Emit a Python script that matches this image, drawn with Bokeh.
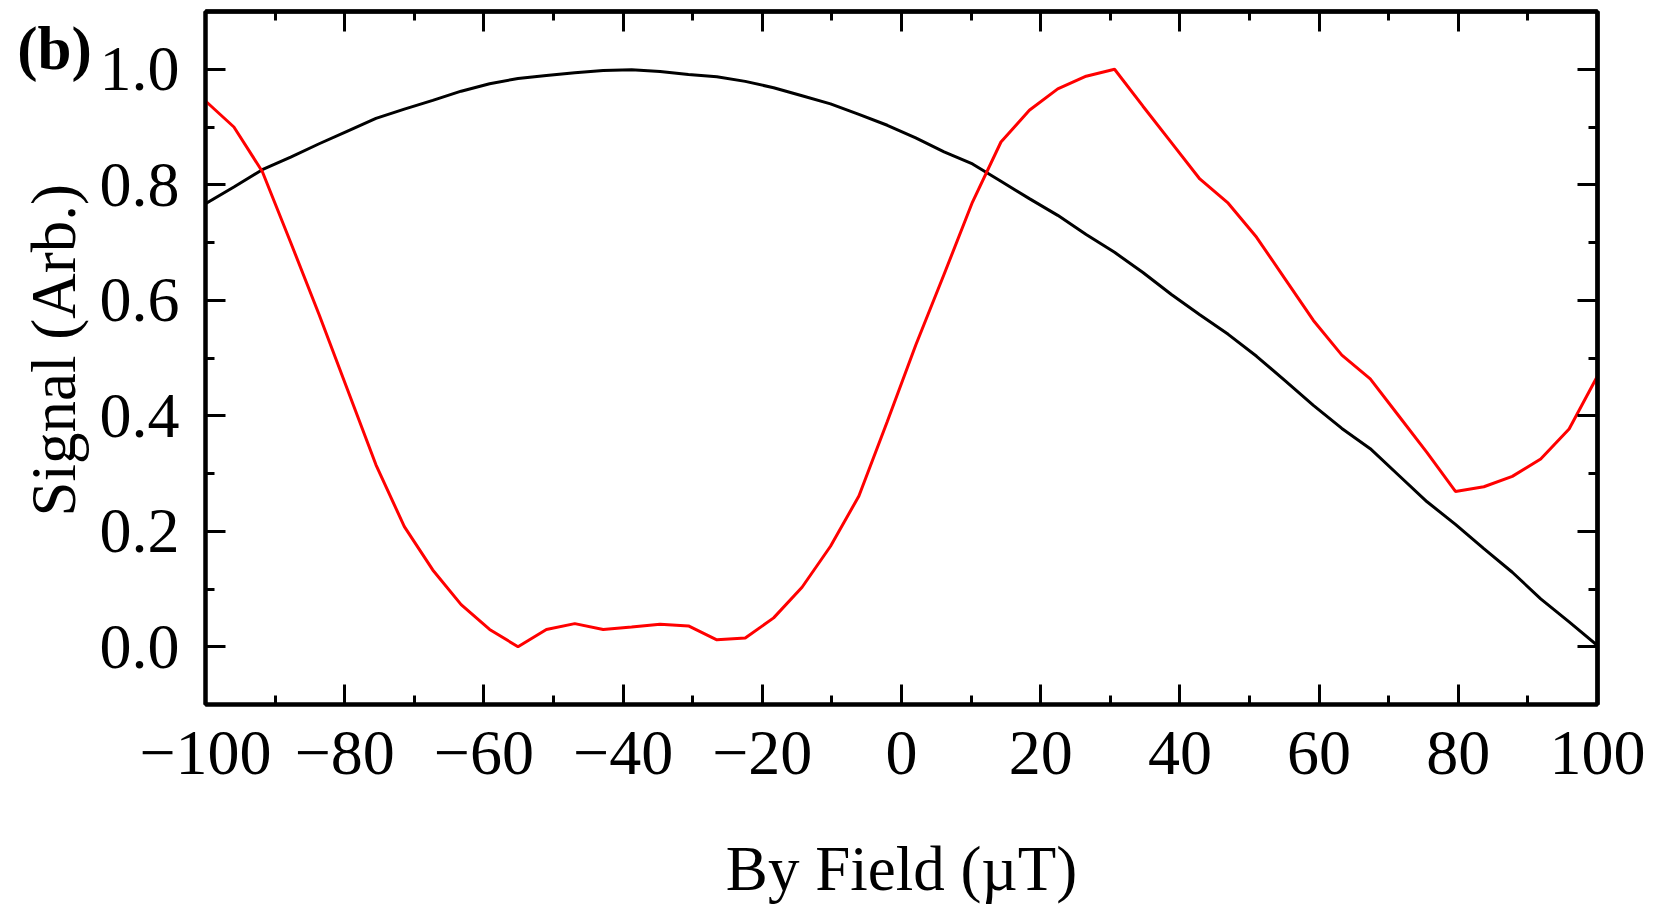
import math
from bokeh.plotting import figure
from bokeh.layouts import row
from bokeh.models import Range1d, FixedTicker, CustomJSTickFormatter, LinearAxis
from bokeh.core.properties import value
from bokeh.embed import file_html
from bokeh.resources import INLINE

# ---- data ----
field = [-100.0, -95.92, -91.84, -87.76, -83.67, -79.59, -75.51, -71.43, -67.35, -63.27,
         -59.18, -55.10, -51.02, -46.94, -42.86, -38.78, -34.69, -30.61, -26.53, -22.45,
         -18.37, -14.29, -10.20, -6.12, -2.04, 2.04, 6.12, 10.20, 14.29, 18.37,
         22.45, 26.53, 30.61, 34.69, 38.78, 42.86, 46.94, 51.02, 55.10, 59.18,
         63.27, 67.35, 71.43, 75.51, 79.59, 83.67, 87.76, 91.84, 95.92, 100.0]

signal_black = [0.767, 0.796, 0.826, 0.848, 0.871, 0.893, 0.915, 0.931, 0.946, 0.962,
                0.975, 0.984, 0.989, 0.994, 0.998, 0.999, 0.996, 0.991, 0.987, 0.979,
                0.968, 0.954, 0.940, 0.922, 0.903, 0.881, 0.857, 0.836, 0.806, 0.776,
                0.747, 0.714, 0.683, 0.648, 0.610, 0.575, 0.541, 0.503, 0.461, 0.418,
                0.378, 0.343, 0.297, 0.251, 0.212, 0.170, 0.129, 0.083, 0.043, 0.002]

signal_red = [0.945, 0.900, 0.823, 0.700, 0.575, 0.445, 0.315, 0.208, 0.133, 0.073,
              0.030, 0.000, 0.030, 0.040, 0.030, 0.034, 0.039, 0.036, 0.012, 0.015,
              0.050, 0.103, 0.174, 0.261, 0.390, 0.522, 0.645, 0.770, 0.874, 0.929,
              0.966, 0.988, 1.000, 0.936, 0.873, 0.810, 0.768, 0.709, 0.637, 0.565,
              0.505, 0.464, 0.400, 0.336, 0.269, 0.277, 0.295, 0.325, 0.377, 0.469]

x_major = [-100, -80, -60, -40, -20, 0, 20, 40, 60, 80, 100]
x_minor = [-90, -70, -50, -30, -10, 10, 30, 50, 70, 90]
y_major = [0.0, 0.2, 0.4, 0.6, 0.8, 1.0]
y_minor = [0.1, 0.3, 0.5, 0.7, 0.9]

x_label = "By Field (\u00b5T)"
y_label = "Signal (Arb.)"
panel_tag = "(b)"

FONT = "Liberation Serif"
TICK_FS = "64px"
LABEL_FS = "63px"

H = 905
LEFT_W = 96

# ---- left strip: panel tag and y-axis title ----
side = figure(width=LEFT_W, height=H, output_backend="svg", toolbar_location=None,
              x_range=Range1d(0, LEFT_W), y_range=Range1d(-H, 0),
              x_axis_type=None, y_axis_type=None, title=None,
              min_border_left=0, min_border_right=0, min_border_top=0, min_border_bottom=0,
              outline_line_color=None, background_fill_color="white", border_fill_color="white")
side.grid.visible = False
side.text(x=[54], y=[-49], text=[panel_tag], text_font=value(FONT), text_font_style="bold",
          text_font_size="61px", text_baseline="middle", text_align="center",
          text_color="black")
side.text(x=[53], y=[-443], text=[y_label], text_font=value(FONT), text_font_style="normal",
          text_font_size=LABEL_FS, text_baseline="middle", text_align="center",
          angle=math.pi / 2, text_color="black")

# ---- main plot ----
p = figure(frame_width=1392, frame_height=693, output_backend="svg", toolbar_location=None,
           x_range=Range1d(-100, 100), y_range=Range1d(-0.1, 1.1), title=None,
           min_border_left=204 - LEFT_W, min_border_right=55,
           min_border_top=11, min_border_bottom=H - 11 - 693,
           background_fill_color="white", border_fill_color="white")
p.grid.visible = False
p.outline_line_color = "black"
p.outline_line_width = 4

p.line(field, signal_black, line_color="black", line_width=3)
p.line(field, signal_red, line_color="#ff0000", line_width=3)

xfmt = CustomJSTickFormatter(code="return tick < 0 ? '\\u2212' + Math.abs(tick).toFixed(0) : tick.toFixed(0);")
yfmt = CustomJSTickFormatter(code="return tick.toFixed(1);")


def base_style(ax):
    ax.axis_line_color = "black"
    ax.axis_line_width = 4
    ax.major_tick_in = 20
    ax.major_tick_out = 0
    ax.minor_tick_in = 9
    ax.minor_tick_out = 0
    ax.major_tick_line_width = 3
    ax.minor_tick_line_width = 3
    ax.major_tick_line_color = "black"
    ax.minor_tick_line_color = "black"
    ax.major_label_text_font = FONT
    ax.major_label_text_font_size = TICK_FS
    ax.major_label_text_color = "black"


xa = p.xaxis[0]
xa.ticker = FixedTicker(ticks=x_major, minor_ticks=x_minor)
xa.formatter = xfmt
base_style(xa)
xa.major_label_standoff = 27
xa.axis_label = x_label
xa.axis_label_text_font = FONT
xa.axis_label_text_font_size = LABEL_FS
xa.axis_label_text_font_style = "normal"
xa.axis_label_text_color = "black"
xa.axis_label_standoff = 57

ya = p.yaxis[0]
ya.ticker = FixedTicker(ticks=y_major, minor_ticks=y_minor)
ya.formatter = yfmt
base_style(ya)
ya.major_label_standoff = 26


def tick_only_axis(positions, length):
    # an axis that only carries inward ticks (no labels)
    ax = LinearAxis(ticker=FixedTicker(ticks=[], minor_ticks=positions))
    ax.axis_line_color = "black"
    ax.axis_line_width = 4
    ax.major_tick_in = 0
    ax.major_tick_out = 0
    ax.minor_tick_in = length
    ax.minor_tick_out = 0
    ax.minor_tick_line_width = 3
    ax.minor_tick_line_color = "black"
    ax.major_label_standoff = 0
    ax.axis_label_standoff = 0
    return ax


p.add_layout(tick_only_axis(x_major, 20), "above")
p.add_layout(tick_only_axis(x_minor, 9), "above")
p.add_layout(tick_only_axis(y_major, 20), "right")
p.add_layout(tick_only_axis(y_minor, 9), "right")

layout = row(side, p, spacing=0)
open("out.html", "w").write(file_html(layout, INLINE))
